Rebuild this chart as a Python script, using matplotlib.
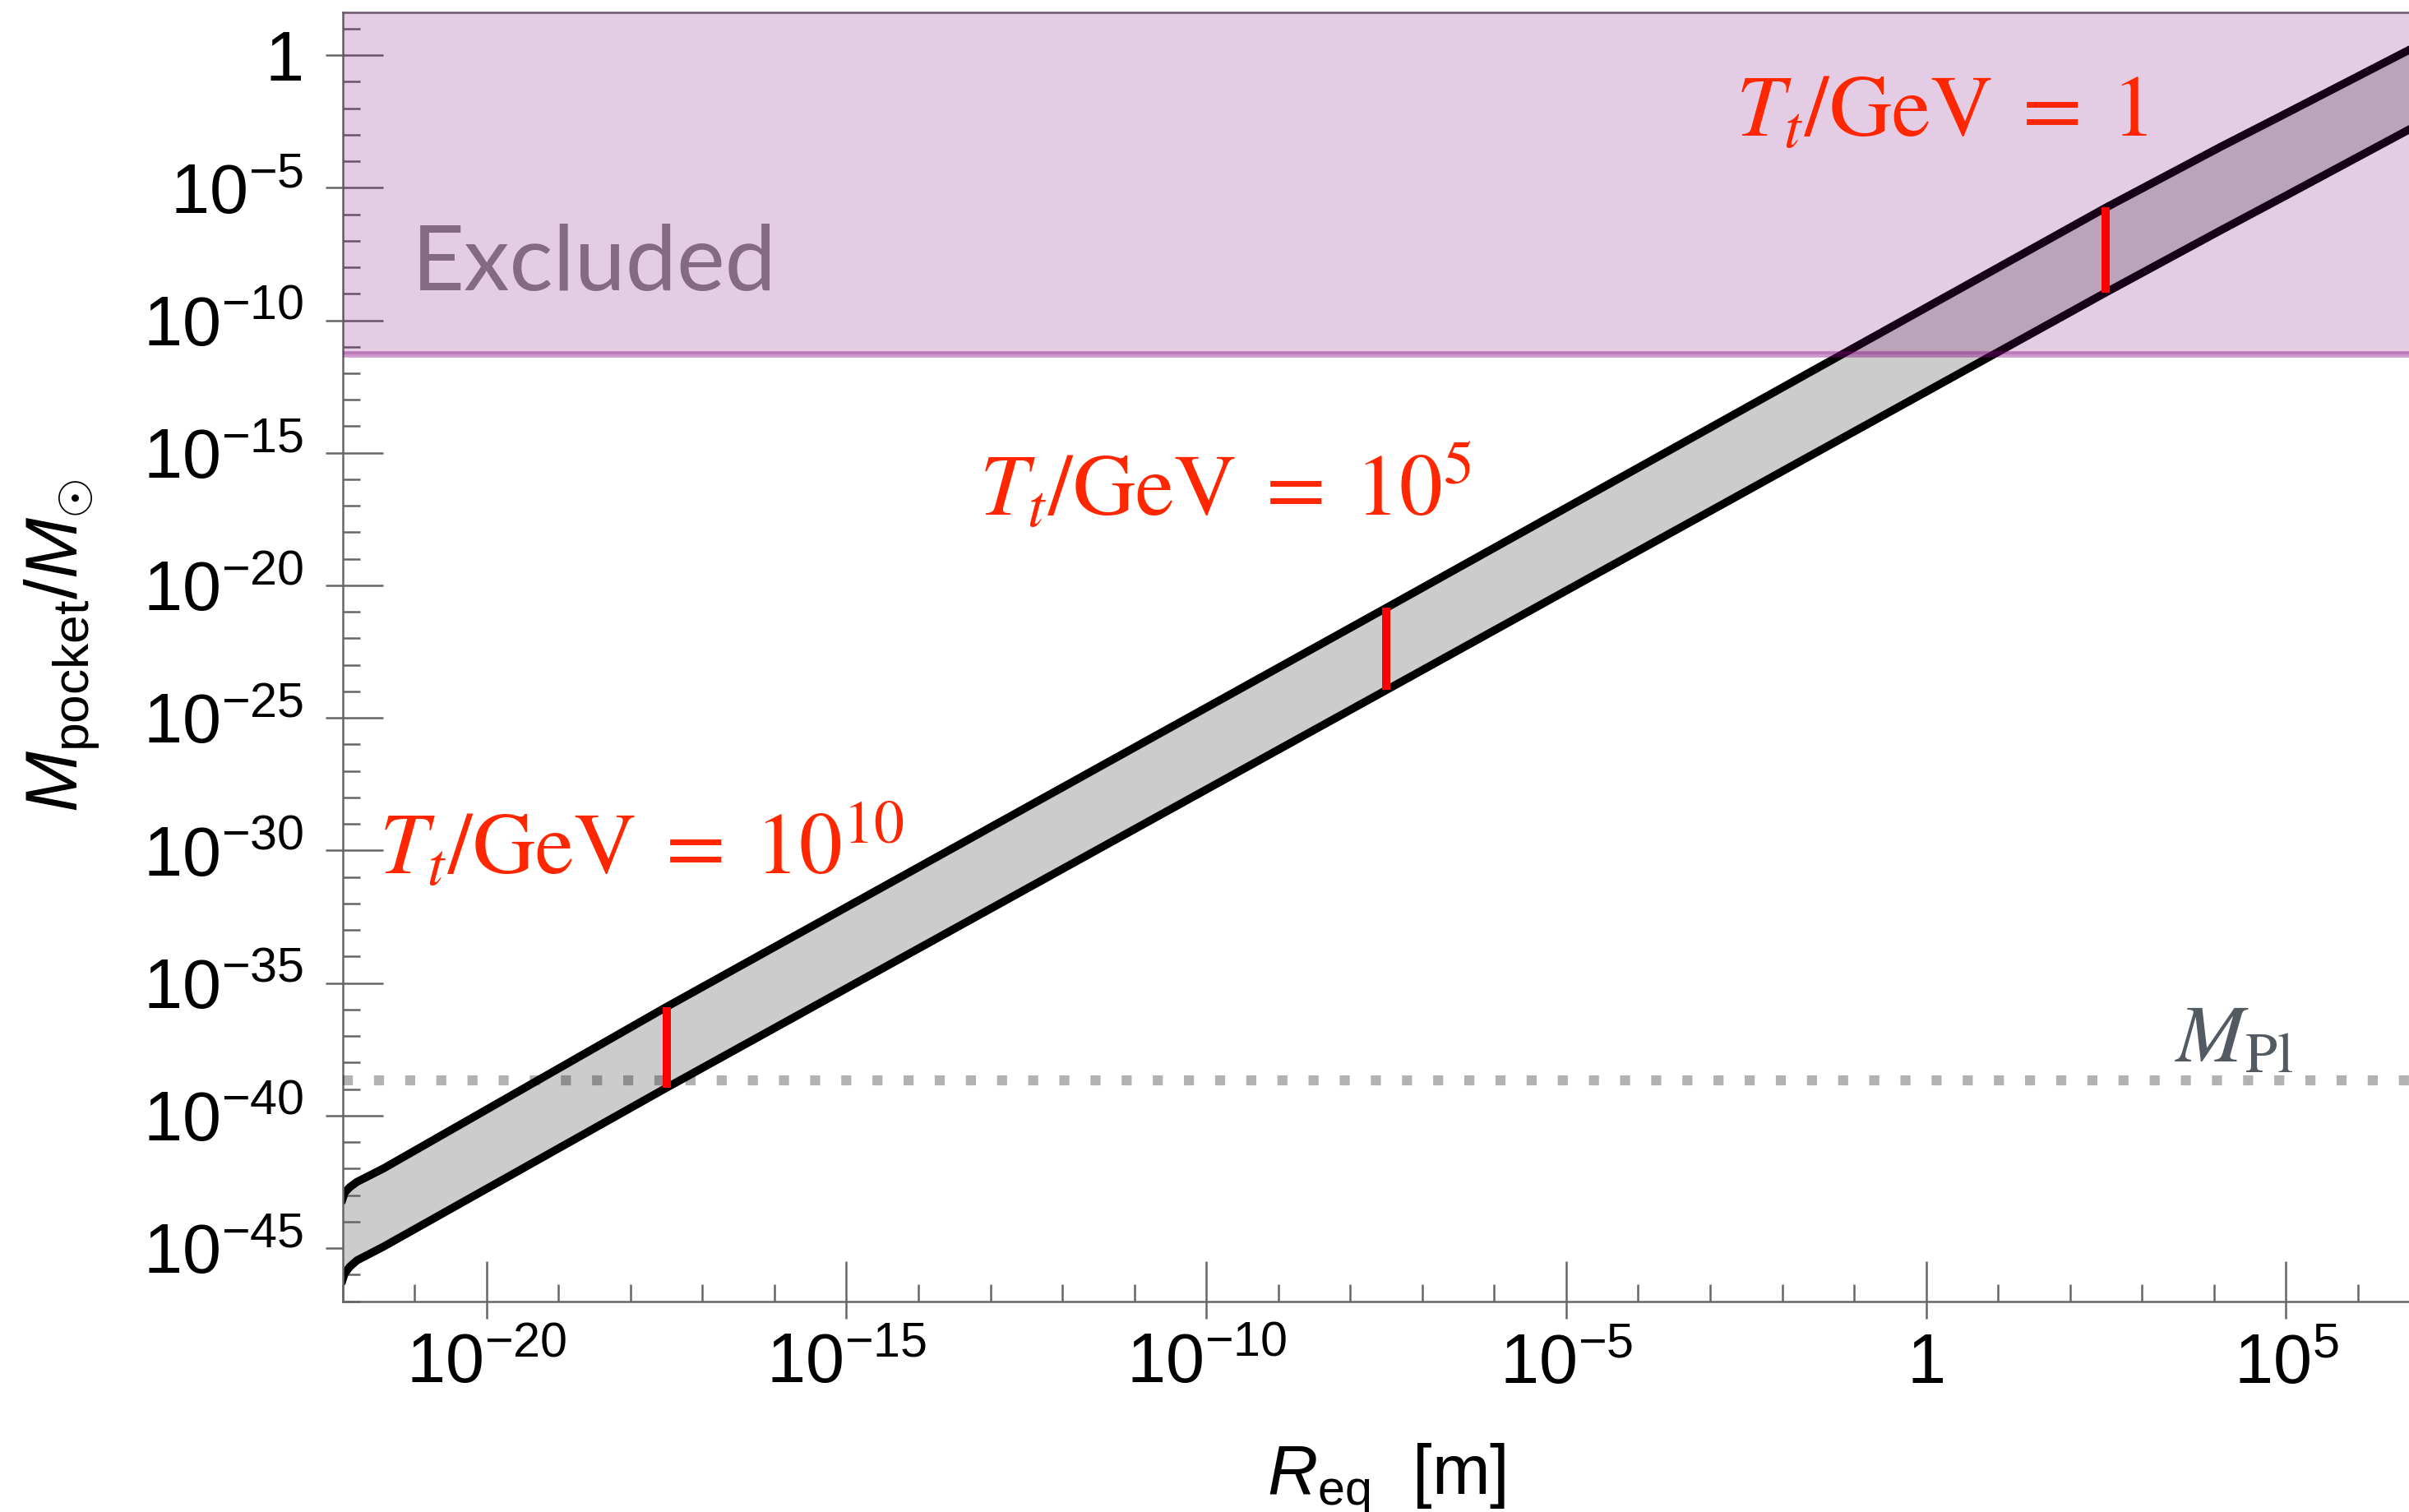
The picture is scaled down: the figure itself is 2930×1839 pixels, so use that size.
import numpy as np
import matplotlib.pyplot as plt
from matplotlib.ticker import FixedLocator, FixedFormatter, NullLocator, NullFormatter

plt.rcParams['font.family'] = ['Liberation Sans', 'DejaVu Sans']
plt.rcParams['mathtext.fontset'] = 'custom'
plt.rcParams['mathtext.rm'] = 'Liberation Sans'
plt.rcParams['mathtext.it'] = 'Liberation Sans:italic'
plt.rcParams['mathtext.bf'] = 'Liberation Sans:bold'

#== band edges (log10 R_eq [m], log10 M/M_sun) ==#
logR = [-22.0, -21.97, -21.9, -21.8, -21.43, -17.5, -7.5, 2.5, 4.1, 5.0, 6.75]
logM_upper = [-43.15, -42.9, -42.7, -42.5, -41.99, -35.9, -20.85, -5.75, -3.45, -2.2, 0.25]
logM_lower = [-46.2, -45.95, -45.7, -45.46, -44.94, -38.95, -23.95, -8.95, -6.6, -5.3, -2.75]

#== transition temperature markers ==#
logR_marks = [-17.5, -7.5, 2.5]
mark_labels = [r'$T_t/\mathrm{GeV}\;=\;10^{10}$', r'$T_t/\mathrm{GeV}\;=\;10^5$',
               r'$T_t/\mathrm{GeV}\;=\;1$']

#== horizontal limits ==#
M_excluded = 10**-11.3
M_planck = 2.18e-39

#== ticks ==#
xmajor_exp = [-20, -15, -10, -5, 0, 5]
ymajor_exp = [-45, -40, -35, -30, -25, -20, -15, -10, -5, 0]


def dec_label(e):
    return '1' if e == 0 else r'$10^{%d}$' % e


R = 10.0 ** np.array(logR)
Mup = 10.0 ** np.array(logM_upper)
Mlo = 10.0 ** np.array(logM_lower)
Rm = 10.0 ** np.array(logR_marks)
Mm_up = 10.0 ** np.interp(logR_marks, logR, logM_upper)
Mm_lo = 10.0 ** np.interp(logR_marks, logR, logM_lower)

fig = plt.figure(figsize=(29.30, 18.39), dpi=100)
ax = fig.add_axes([0.1422, 0.1394, 1 - 0.1422, 0.9916 - 0.1394])
ax.set_xscale('log')
ax.set_yscale('log')
ax.set_xlim(1e-22, 10**6.71)
ax.set_ylim(1e-47, 10**1.6)

#== band ==#
ax.fill_between(R, Mlo, Mup, color='#cccccc', lw=0, zorder=1)
ax.plot(R, Mup, color='k', lw=7, zorder=2)
ax.plot(R, Mlo, color='k', lw=7, zorder=2)

#== Planck mass ==#
ax.axhline(M_planck, color='k', alpha=0.3, lw=8.8, ls=(0, (1, 2.1)),
           dash_capstyle='butt', zorder=3)

#== excluded region ==#
ax.axhspan(M_excluded, 1e5, color=(0.5, 0, 0.5), alpha=0.2, lw=0, zorder=5)
ax.axhline(M_excluded, color=(0.5, 0, 0.5), alpha=0.4, lw=5.5, zorder=5)

#== red markers ==#
ax.vlines(Rm, Mm_lo, Mm_up, color='#ff0000', lw=7.2, zorder=6)

#== annotations ==#
label_xy = [(10**-21.49, 10**-30.92), (10**-13.16, 10**-17.4), (10**-2.64, 10**-3.07)]
for lab, (tx, ty) in zip(mark_labels, label_xy):
    ax.text(tx, ty, lab, color='#ff2600', fontsize=76, math_fontfamily='stix',
            va='baseline', ha='left', zorder=7)

ax.text(10**-21.04, 10**-8.87, 'Excluded', family='Lato', fontweight='normal',
        fontsize=80, color='#846a82', va='baseline', ha='left', zorder=7)
ax.text(10**3.45, 10**-37.99, r'$M_{\mathrm{Pl}}$', math_fontfamily='stix',
        fontsize=72, color='#545a62', va='baseline', ha='left', zorder=7)

#== axes styling ==#
gray = '#666666'
for s in ['left', 'bottom', 'top']:
    ax.spines[s].set_color(gray)
    ax.spines[s].set_linewidth(1.8)
ax.spines['right'].set_visible(False)

ax.xaxis.set_major_locator(FixedLocator([10.0**e for e in xmajor_exp]))
ax.xaxis.set_major_formatter(FixedFormatter([dec_label(e) for e in xmajor_exp]))
ax.xaxis.set_minor_locator(FixedLocator([10.0**e for e in range(-22, 7) if e not in xmajor_exp]))
ax.xaxis.set_minor_formatter(NullFormatter())
ax.yaxis.set_major_locator(FixedLocator([10.0**e for e in ymajor_exp]))
ax.yaxis.set_major_formatter(FixedFormatter([dec_label(e) for e in ymajor_exp]))
ax.yaxis.set_minor_locator(FixedLocator([10.0**e for e in range(-47, 2) if e not in ymajor_exp]))
ax.yaxis.set_minor_formatter(NullFormatter())

ax.tick_params(which='major', direction='out', length=15, width=1.8, color=gray,
               labelsize=61, labelcolor='black')
ax.tick_params(axis='x', which='major', pad=12)
ax.tick_params(axis='y', which='major', pad=19)
ax.tick_params(which='minor', direction='in', length=15, width=1.8, color=gray)

# inward half of the major ticks
ident = (lambda v: v, lambda v: v)
secx = ax.secondary_xaxis('bottom', functions=ident)
secx.xaxis.set_major_locator(FixedLocator([10.0**e for e in xmajor_exp]))
secx.xaxis.set_minor_locator(NullLocator())
secx.tick_params(which='major', direction='in', length=35, width=1.8, color=gray,
                 labelbottom=False)
secx.spines['bottom'].set_visible(False)
secy = ax.secondary_yaxis('left', functions=ident)
secy.yaxis.set_major_locator(FixedLocator([10.0**e for e in ymajor_exp]))
secy.yaxis.set_minor_locator(NullLocator())
secy.tick_params(which='major', direction='in', length=35, width=1.8, color=gray,
                 labelleft=False)
secy.spines['left'].set_visible(False)

ax.set_xlabel(r'$R_{\mathrm{eq}}$  [m]', fontsize=61)
ax.xaxis.label.set_va('baseline')
ax.xaxis.set_label_coords(0.505, -0.149)
ax.set_ylabel(r'$M_{\mathrm{pocket}}/M_{\odot}$', fontsize=64)
ax.yaxis.label.set_va('center')
ax.yaxis.set_label_coords(-0.136, 0.509)

fig.savefig('out.png', dpi=100)
